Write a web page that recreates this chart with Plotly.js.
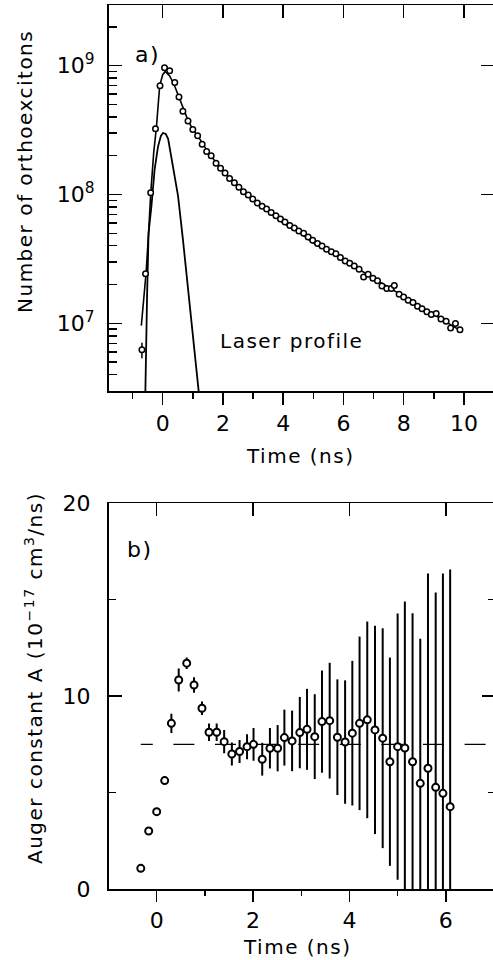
<!DOCTYPE html>
<html><head><meta charset="utf-8">
<script src="https://cdn.plot.ly/plotly-3.0.1.min.js"></script>
<style>
html,body{margin:0;padding:0;overflow:hidden;background:#fff;width:493px;height:960px}
#chart{width:520px;height:960px}
text.annotation-text{letter-spacing:1.5px}
</style></head><body><div id="chart"></div><script>
// ---- panel a) : number of orthoexcitons vs time ----
const timeA = [-0.69,-0.57,-0.40,-0.24,-0.09,0.06,0.23,0.40,0.54,0.67,0.84,1.00,1.16,1.31,1.46,1.61,1.77,1.92,2.07,2.22,2.38,2.53,2.68,2.84,2.99,3.14,3.30,3.45,3.60,3.76,3.91,4.06,4.22,4.37,4.52,4.68,4.83,4.98,5.14,5.29,5.44,5.60,5.75,5.90,6.06,6.21,6.36,6.52,6.67,6.82,6.98,7.13,7.28,7.44,7.59,7.69,7.85,8.00,8.15,8.31,8.46,8.61,8.77,8.92,9.08,9.24,9.41,9.56,9.72,9.87];
const countsA = [6.25e6,2.43e7,1.03e8,3.23e8,6.97e8,9.6e8,9.1e8,7.38e8,5.71e8,4.43e8,3.72e8,3.19e8,2.85e8,2.45e8,2.15e8,2.0e8,1.75e8,1.6e8,1.47e8,1.33e8,1.23e8,1.135e8,1.05e8,9.9e7,9.2e7,8.6e7,8.1e7,7.7e7,7.25e7,6.85e7,6.45e7,6.1e7,5.75e7,5.5e7,5.2e7,5.0e7,4.68e7,4.42e7,4.17e7,3.98e7,3.76e7,3.59e7,3.47e7,3.24e7,3.05e7,2.92e7,2.79e7,2.63e7,2.29e7,2.4e7,2.24e7,2.14e7,1.95e7,1.86e7,1.86e7,1.97e7,1.68e7,1.6e7,1.51e7,1.45e7,1.36e7,1.30e7,1.23e7,1.17e7,1.19e7,1.08e7,1.04e7,9.2e6,9.95e6,8.9e6];
const errUpA = [0.83e6]; const errDnA = [0.88e6];
const fitTime = [-0.71,-0.62,-0.55,-0.47,-0.40,-0.30,-0.21,-0.10,0.00,0.08,0.23,0.38,0.53,0.69,0.84,1.00,1.25,1.50,1.75,2.00,2.5,3.0,3.5,4.0,4.5,5.0,5.5,6.0,6.5,7.0,7.5,8.0,8.5,9.0,9.5,9.9];
const fitCounts = [9.6e6,1.6e7,2.5e7,5.0e7,1.0e8,2.1e8,3.3e8,7.0e8,8.5e8,9.0e8,8.3e8,7.1e8,5.75e8,4.5e8,3.76e8,3.2e8,2.65e8,2.14e8,1.78e8,1.51e8,1.15e8,9.2e7,7.55e7,6.0e7,5.15e7,4.2e7,3.65e7,3.1e7,2.65e7,2.26e7,1.91e7,1.62e7,1.37e7,1.16e7,9.9e6,8.75e6];
const laserTime = [-0.59,-0.575,-0.52,-0.47,-0.375,-0.27,-0.156,-0.06,0.01,0.10,0.18,0.34,0.51,0.67,0.84,1.01,1.22];
const laserCounts = [2.5e6,3.0e6,1.6e7,5.0e7,8.1e7,1.55e8,2.35e8,2.85e8,3.0e8,2.95e8,2.7e8,1.65e8,9.7e7,4.5e7,1.9e7,8.0e6,2.6e6];
const decadeTicks = [1e7,1e8,1e9];
const decadeText = ['10<sup>7</sup>','10<sup>8</sup>','10<sup>9</sup>'];

// ---- panel b) : Auger constant vs time ----
const timeB = [-0.33,-0.166,0.0,0.166,0.305,0.457,0.623,0.775,0.94,1.086,1.245,1.40,1.56,1.72,1.875,2.01,2.19,2.35,2.51,2.65,2.81,2.97,3.12,3.28,3.43,3.59,3.75,3.91,4.06,4.21,4.37,4.53,4.69,4.84,5.00,5.15,5.31,5.47,5.63,5.79,5.94,6.09];
const augerB = [1.07,3.01,4.01,5.62,8.59,10.84,11.71,10.58,9.37,8.13,8.13,7.64,7.0,7.13,7.38,7.5,6.73,7.30,7.30,7.85,7.68,8.11,8.28,7.90,8.68,8.73,7.87,7.62,8.08,8.59,8.77,8.25,7.82,6.60,7.38,7.31,6.60,5.48,6.26,5.27,4.96,4.27];
const errB = [0,0,0,0,0.5,0.6,0.3,0.4,0.35,0.45,0.45,0.6,0.6,0.6,0.65,0.85,0.85,1.05,1.2,1.45,1.57,1.85,2.1,2.2,2.65,3.0,3.0,3.2,3.75,4.5,5.1,5.4,5.7,5.4,6.9,7.6,7.7,7.5,10.1,10.1,11.4,12.3];
const augerMean = 7.5;

// ---- geometry helpers (pixels -> paper) ----
const W = 494, H = 960;
const px = v => v / W, py = v => 1 - v / H;
const BLACK = '#000';
const FONT = {family:'DejaVu Sans, sans-serif', size:20, color:BLACK};
const TICKFONT = {family:'DejaVu Sans, sans-serif', size:22, color:BLACK};
const dx0 = px(108.5);

const errA = timeA.map((_, i) => i < errUpA.length ? errUpA[i] : 0);
const errAm = timeA.map((_, i) => i < errDnA.length ? errDnA[i] : 0);
const minorLog = [];
for (let e = 6; e <= 9; e++) for (let m = 2; m <= 9; m++) minorLog.push(m * Math.pow(10, e));

const traces = [
  {x: fitTime, y: fitCounts, xaxis:'x', yaxis:'y', mode:'lines', line:{color:BLACK, width:1.6}, hoverinfo:'skip'},
  {x: laserTime, y: laserCounts, xaxis:'x', yaxis:'y', mode:'lines', line:{color:BLACK, width:1.8}, hoverinfo:'skip'},
  {x: timeA, y: countsA, xaxis:'x', yaxis:'y', mode:'markers',
   marker:{symbol:'circle', size:5.5, color:'#fff', line:{color:BLACK, width:1.5}},
   error_y:{type:'data', array:errA, arrayminus:errAm, visible:true, width:0, thickness:1.5, color:BLACK}},
  {x: timeB, y: augerB, xaxis:'x2', yaxis:'y2', mode:'markers',
   marker:{symbol:'circle', size:7, color:'#fff', line:{color:BLACK, width:2}},
   error_y:{type:'data', array:errB, visible:true, width:0, thickness:2, color:BLACK}},
  {x:[], y:[], xaxis:'x3', yaxis:'y', hoverinfo:'skip'},
  {x:[], y:[], xaxis:'x', yaxis:'y4', hoverinfo:'skip'},
  {x:[], y:[], xaxis:'x4', yaxis:'y2', hoverinfo:'skip'},
  {x:[], y:[], xaxis:'x2', yaxis:'y5', hoverinfo:'skip'}
];

const base = {showgrid:false, zeroline:false, tickcolor:BLACK, tickwidth:1.5, tickfont:TICKFONT, fixedrange:true};
const dashPat = [12,20.6].concat(Array(9).fill('21,20.6').join(',').split(',').map(Number)).map(v => v + 'px').join(',');

const layout = {
  width: 520, height: 960,
  margin:{l:0, r:26, t:0, b:0},
  paper_bgcolor:'#fff', plot_bgcolor:'#fff',
  showlegend:false,
  font: FONT,
  xaxis: Object.assign({}, base, {domain:[dx0,1], anchor:'y', range:[-1.8,11], tickmode:'array', tickvals:[0,2,4,6,8,10],
    ticks:'outside', ticklen:12, showline:true, linewidth:1.5, linecolor:BLACK, mirror:true,
    minor:{tickmode:'array', tickvals:[-1,1,3,5,7,9], ticks:'outside', ticklen:6, tickwidth:1.5, tickcolor:BLACK, showgrid:false}}),
  xaxis3: Object.assign({}, base, {overlaying:'x', anchor:'y', side:'top', range:[-1.8,11], tickmode:'array', tickvals:[0,2,4,6,8,10],
    ticks:'inside', ticklen:13, showticklabels:false, showline:false}),
  yaxis: Object.assign({}, base, {domain:[py(391), py(5)], anchor:'x', type:'log', range:[6.475,9.47], tickmode:'array',
    tickvals:decadeTicks, ticktext:decadeText, ticks:'inside', ticklen:13, ticklabelstandoff:8,
    showline:true, linewidth:1.5, linecolor:BLACK, mirror:true,
    minor:{tickmode:'array', tickvals:minorLog, ticks:'inside', ticklen:8, tickwidth:1.5, tickcolor:BLACK, showgrid:false}}),
  yaxis4: Object.assign({}, base, {overlaying:'y', anchor:'x', side:'right', type:'log', range:[6.475,9.47], tickmode:'array',
    tickvals:decadeTicks, ticks:'inside', ticklen:13, showticklabels:false, showline:false}),
  xaxis2: Object.assign({}, base, {domain:[dx0,1], anchor:'y2', range:[-1,7], tickmode:'array', tickvals:[0,2,4,6],
    ticks:'outside', ticklen:11, showline:true, linewidth:1.5, linecolor:BLACK, mirror:true,
    minor:{tickmode:'array', tickvals:[1,3,5], ticks:'outside', ticklen:5, tickwidth:1.5, tickcolor:BLACK, showgrid:false}}),
  xaxis4: Object.assign({}, base, {overlaying:'x2', anchor:'y2', side:'top', range:[-1,7], tickmode:'array', tickvals:[0,2,4,6],
    ticks:'inside', ticklen:13, showticklabels:false, showline:false}),
  yaxis2: Object.assign({}, base, {domain:[py(889), py(503.3)], anchor:'x2', range:[0,20], tickmode:'array', tickvals:[0,10,20],
    ticks:'inside', ticklen:13, ticklabelstandoff:12, showline:true, linewidth:1.5, linecolor:BLACK, mirror:true,
    minor:{tickmode:'array', tickvals:[5,15], ticks:'inside', ticklen:7, tickwidth:1.5, tickcolor:BLACK, showgrid:false}}),
  yaxis5: Object.assign({}, base, {overlaying:'y2', anchor:'x2', side:'right', range:[0,20], tickmode:'array', tickvals:[10],
    ticks:'inside', ticklen:12, showticklabels:false, showline:false,
    minor:{tickmode:'array', tickvals:[5,15], ticks:'inside', ticklen:6, tickwidth:1.5, tickcolor:BLACK, showgrid:false}}),
  shapes:[
    {type:'line', xref:'x2', yref:'y2', x0:timeB[0], x1:7, y0:augerMean, y1:augerMean, layer:'below',
     line:{color:BLACK, width:1.3, dash:dashPat}}
  ],
  annotations:[
    {text:'Number of orthoexcitons', xref:'paper', yref:'paper', x:px(25), y:py(172), textangle:-90, showarrow:false, font:FONT, xanchor:'center', yanchor:'middle'},
    {text:'Time (ns)', xref:'paper', yref:'paper', x:px(300), y:py(456), showarrow:false, font:FONT, xanchor:'center', yanchor:'middle'},
    {text:'a)', xref:'paper', yref:'paper', x:px(147), y:py(54), showarrow:false, font:Object.assign({}, FONT, {size:22}), xanchor:'center', yanchor:'middle'},
    {text:'Laser profile', xref:'paper', yref:'paper', x:px(218), y:py(341), showarrow:false, font:FONT, xanchor:'left', yanchor:'middle'},
    {text:'Auger constant A (10<sup>\u221217</sup> cm<sup>3</sup>/ns)', xref:'paper', yref:'paper', x:px(34), y:py(678), textangle:-90, showarrow:false, font:FONT, xanchor:'center', yanchor:'middle'},
    {text:'Time (ns)', xref:'paper', yref:'paper', x:px(297), y:py(947), showarrow:false, font:FONT, xanchor:'center', yanchor:'middle'},
    {text:'b)', xref:'paper', yref:'paper', x:px(140), y:py(549), showarrow:false, font:Object.assign({}, FONT, {size:22}), xanchor:'center', yanchor:'middle'}
  ]
};

Plotly.newPlot('chart', traces, layout, {staticPlot:true, displayModeBar:false});
</script></body></html>
